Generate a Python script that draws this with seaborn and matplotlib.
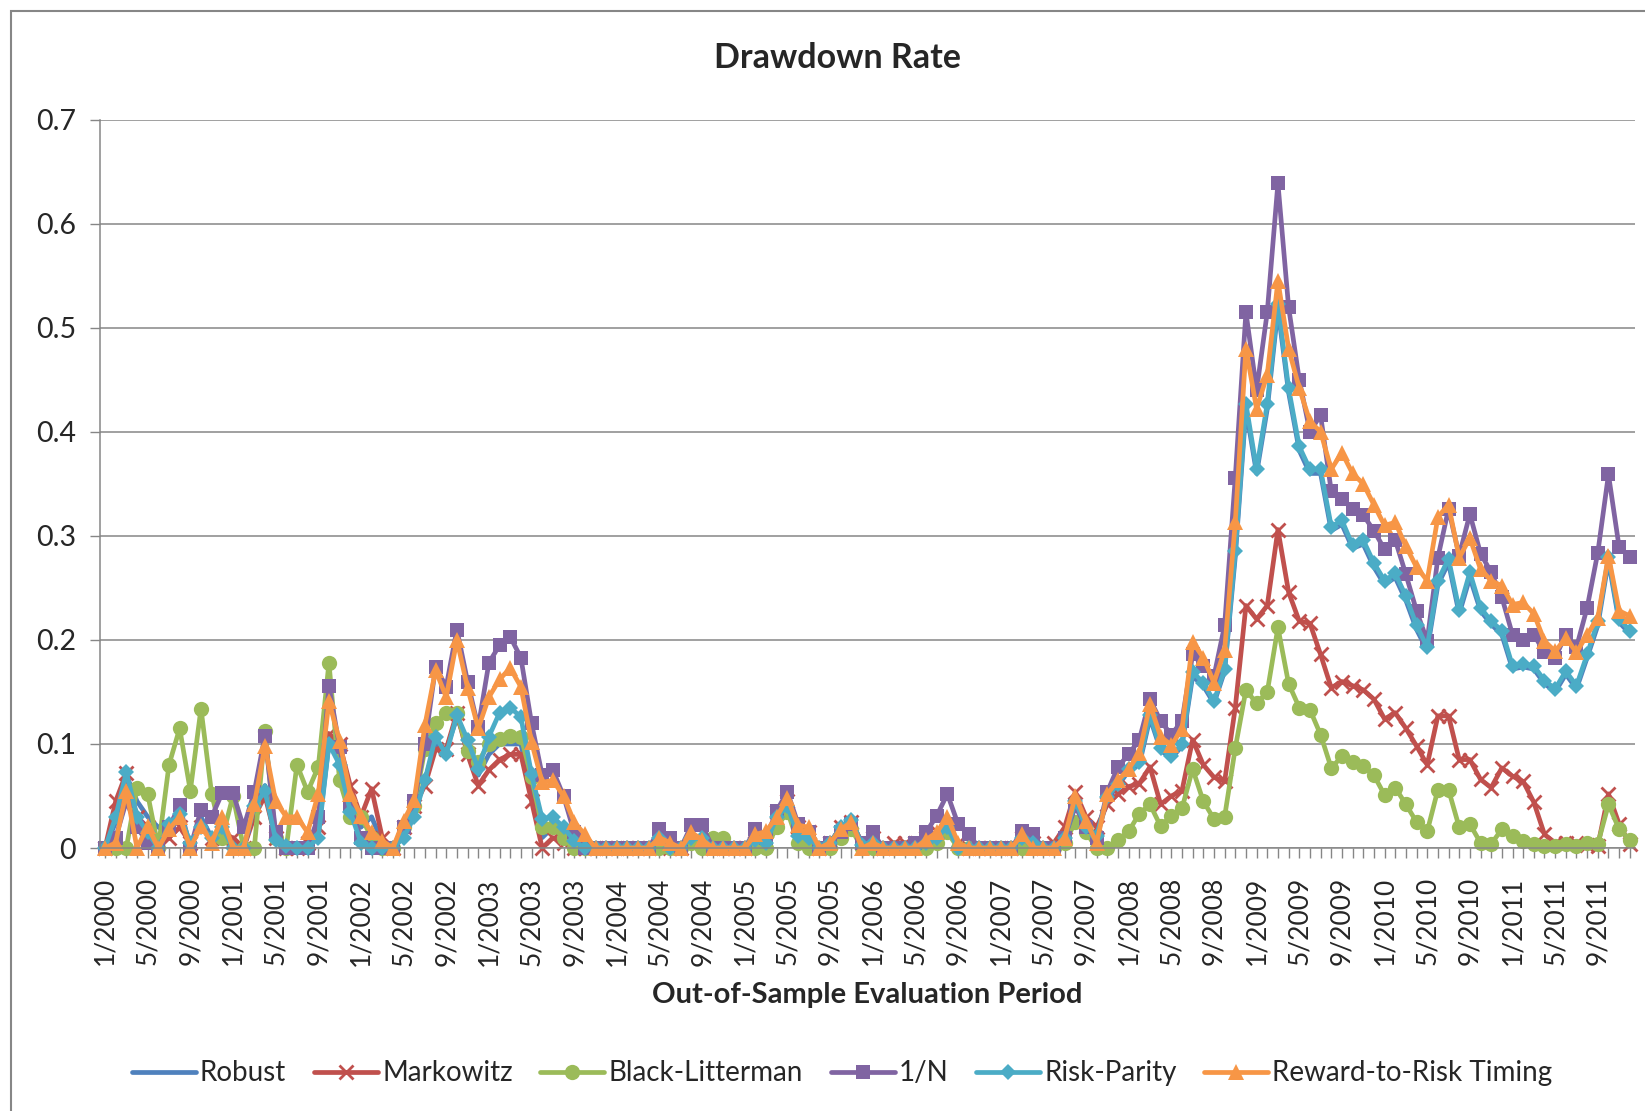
import matplotlib
matplotlib.use('Agg')
import matplotlib.pyplot as plt
import seaborn as sns
import pandas as pd
import numpy as np
from matplotlib.patches import Rectangle

# monthly periods 1/2000 .. 12/2011
years = list(range(2000, 2012))
periods = [f'{m}/{y}' for y in years for m in range(1, 13)]

robust = [
    0, 0.025, 0.07, 0.045, 0.03, 0.02, 0.015, 0.03, 0.0, 0.03, 0.01, 0.015,
    0.005, 0.0, 0.035, 0.06, 0.005, 0.0, 0.0, 0.005, 0.015, 0.1, 0.085, 0.05,
    0.02, 0.03, 0.005, 0.0, 0.015, 0.035, 0.065, 0.1, 0.095, 0.125, 0.1, 0.07,
    0.09, 0.1, 0.1, 0.1, 0.055, 0.01, 0.02, 0.01, 0.0, 0.0, 0.0, 0.0,
    0, 0, 0, 0, 0.01, 0.0, 0.0, 0.01, 0.01, 0.0, 0.0, 0.0,
    0.0, 0.008, 0.005, 0.03, 0.04, 0.012, 0.01, 0.0, 0.005, 0.02, 0.027, 0.003,
    0.005, 0.0, 0.0, 0.0, 0.0, 0.005, 0.01, 0.02, 0.0, 0.0, 0.0, 0.0,
    0.0, 0.0, 0.01, 0.005, 0.0, 0.0, 0.01, 0.042, 0.02, 0.01, 0.047, 0.06,
    0.074, 0.08, 0.125, 0.094, 0.086, 0.098, 0.165, 0.156, 0.139, 0.17, 0.28, 0.422,
    0.36, 0.422, 0.518, 0.438, 0.382, 0.36, 0.36, 0.305, 0.311, 0.288, 0.292, 0.27,
    0.253, 0.26, 0.238, 0.21, 0.19, 0.253, 0.274, 0.225, 0.26, 0.228, 0.215, 0.205,
    0.172, 0.174, 0.172, 0.158, 0.15, 0.167, 0.153, 0.183, 0.214, 0.276, 0.217, 0.206,
]
markowitz = [
    0, 0.045, 0.072, 0.03, 0.02, 0.005, 0.01, 0.02, 0.005, 0.02, 0.01, 0.01,
    0.01, 0.0, 0.03, 0.05, 0.01, 0.0, 0.0, 0.005, 0.02, 0.11, 0.1, 0.06,
    0.03, 0.057, 0.01, 0.0, 0.02, 0.04, 0.06, 0.095, 0.095, 0.13, 0.09, 0.06,
    0.075, 0.085, 0.09, 0.09, 0.045, 0.0, 0.01, 0.005, 0.0, 0.0, 0.0, 0.0,
    0, 0, 0, 0, 0.005, 0.0, 0.0, 0.005, 0.005, 0.0, 0.0, 0.0,
    0.0, 0.005, 0.005, 0.035, 0.045, 0.02, 0.015, 0.0, 0.005, 0.02, 0.025, 0.005,
    0.01, 0.0, 0.005, 0.005, 0.005, 0.01, 0.015, 0.02, 0.005, 0.0, 0.0, 0.0,
    0.0, 0.0, 0.01, 0.005, 0.0, 0.005, 0.02, 0.054, 0.03, 0.02, 0.042, 0.052,
    0.059, 0.062, 0.078, 0.042, 0.05, 0.055, 0.104, 0.08, 0.068, 0.064, 0.135, 0.233,
    0.22, 0.233, 0.306, 0.246, 0.218, 0.216, 0.186, 0.154, 0.16, 0.156, 0.152, 0.143,
    0.124, 0.13, 0.115, 0.098, 0.08, 0.127, 0.127, 0.085, 0.085, 0.066, 0.058, 0.077,
    0.069, 0.064, 0.044, 0.013, 0.005, 0.005, 0.005, 0.003, 0.002, 0.052, 0.023, 0.004,
]
black_litterman = [
    0, 0.0, 0.0, 0.058, 0.052, 0.0, 0.08, 0.115, 0.055, 0.134, 0.052, 0.01,
    0.05, 0.0, 0.0, 0.112, 0.01, 0.0, 0.08, 0.054, 0.078, 0.178, 0.065, 0.03,
    0.03, 0.01, 0.0, 0.0, 0.02, 0.04, 0.095, 0.12, 0.13, 0.13, 0.093, 0.083,
    0.1, 0.105, 0.108, 0.107, 0.068, 0.02, 0.02, 0.01, 0.0, 0.0, 0.0, 0.0,
    0, 0, 0, 0, 0.0, 0.0, 0.0, 0.005, 0.0, 0.01, 0.01, 0.0,
    0.0, 0.0, 0.0, 0.02, 0.035, 0.005, 0.0, 0.0, 0.0, 0.01, 0.018, 0.0,
    0.0, 0.0, 0.0, 0.0, 0.0, 0.0, 0.005, 0.015, 0.0, 0.0, 0.0, 0.0,
    0.0, 0.0, 0.0, 0.0, 0.0, 0.0, 0.005, 0.025, 0.015, 0.0, 0.0, 0.008,
    0.016, 0.033, 0.042, 0.021, 0.031, 0.038, 0.076, 0.045, 0.028, 0.03, 0.096, 0.152,
    0.139, 0.15, 0.212, 0.158, 0.135, 0.133, 0.109, 0.077, 0.088, 0.083, 0.079, 0.07,
    0.051, 0.058, 0.042, 0.025, 0.016, 0.056, 0.056, 0.02, 0.023, 0.005, 0.004, 0.018,
    0.012, 0.007, 0.004, 0.002, 0.002, 0.004, 0.002, 0.005, 0.004, 0.042, 0.018, 0.008,
]
one_over_n = [
    0, 0.01, 0.045, 0.02, 0.005, 0.0, 0.02, 0.041, 0.0, 0.037, 0.03, 0.053,
    0.053, 0.02, 0.054, 0.108, 0.015, 0.0, 0.0, 0.0, 0.03, 0.156, 0.097, 0.04,
    0.01, 0.0, 0.0, 0.0, 0.02, 0.045, 0.1, 0.174, 0.155, 0.21, 0.16, 0.116,
    0.178, 0.195, 0.203, 0.183, 0.12, 0.07, 0.075, 0.05, 0.015, 0.0, 0.0, 0.0,
    0, 0, 0, 0, 0.018, 0.01, 0.0, 0.022, 0.022, 0.0, 0.0, 0.0,
    0.0, 0.018, 0.01, 0.036, 0.054, 0.023, 0.015, 0.0, 0.005, 0.015, 0.023, 0.005,
    0.015, 0.0, 0.0, 0.0, 0.005, 0.015, 0.031, 0.052, 0.023, 0.013, 0.0, 0.0,
    0.0, 0.0, 0.016, 0.013, 0.0, 0.0, 0.01, 0.04, 0.02, 0.01, 0.054, 0.078,
    0.09, 0.104, 0.143, 0.122, 0.109, 0.122, 0.186, 0.175, 0.165, 0.214, 0.356, 0.515,
    0.44, 0.515, 0.639, 0.52, 0.45, 0.40, 0.416, 0.343, 0.335, 0.326, 0.32, 0.305,
    0.287, 0.296, 0.263, 0.228, 0.199, 0.279, 0.326, 0.281, 0.321, 0.283, 0.265, 0.241,
    0.205, 0.2, 0.205, 0.188, 0.183, 0.205, 0.193, 0.231, 0.284, 0.359, 0.289, 0.28,
]
risk_parity = [
    0, 0.03, 0.073, 0.03, 0.015, 0.0, 0.023, 0.033, 0.005, 0.02, 0.01, 0.02,
    0.0, 0.0, 0.04, 0.055, 0.008, 0.002, 0.0, 0.0, 0.01, 0.1, 0.08, 0.035,
    0.005, 0.0, 0.0, 0.0, 0.01, 0.03, 0.065, 0.107, 0.09, 0.128, 0.104, 0.076,
    0.107, 0.13, 0.135, 0.126, 0.071, 0.028, 0.03, 0.02, 0.007, 0.0, 0.0, 0.0,
    0, 0, 0, 0, 0.01, 0.0, 0.0, 0.01, 0.01, 0.0, 0.0, 0.0,
    0.0, 0.008, 0.005, 0.03, 0.04, 0.012, 0.01, 0.0, 0.005, 0.02, 0.027, 0.003,
    0.005, 0.0, 0.0, 0.0, 0.0, 0.005, 0.01, 0.02, 0.0, 0.0, 0.0, 0.0,
    0.0, 0.0, 0.01, 0.005, 0.0, 0.0, 0.01, 0.045, 0.02, 0.012, 0.049, 0.062,
    0.076, 0.083, 0.128, 0.096, 0.088, 0.1, 0.169, 0.159, 0.141, 0.172, 0.285, 0.427,
    0.364, 0.427, 0.523, 0.442, 0.386, 0.364, 0.364, 0.309, 0.315, 0.291, 0.296, 0.274,
    0.257, 0.264, 0.242, 0.214, 0.193, 0.257, 0.278, 0.229, 0.265, 0.231, 0.218, 0.209,
    0.175, 0.177, 0.175, 0.161, 0.153, 0.17, 0.156, 0.186, 0.218, 0.28, 0.22, 0.209,
]
reward_to_risk = [
    0, 0.005, 0.055, 0.0, 0.021, 0.0, 0.018, 0.03, 0.0, 0.021, 0.005, 0.03,
    0.0, 0.0, 0.042, 0.098, 0.045, 0.03, 0.03, 0.015, 0.052, 0.141, 0.103, 0.052,
    0.031, 0.015, 0.007, 0.0, 0.026, 0.046, 0.118, 0.171, 0.145, 0.2, 0.154, 0.115,
    0.145, 0.162, 0.173, 0.155, 0.102, 0.063, 0.065, 0.05, 0.025, 0.013, 0.0, 0.0,
    0, 0, 0, 0, 0.01, 0.005, 0.0, 0.015, 0.008, 0.0, 0.0, 0.0,
    0.0, 0.013, 0.016, 0.03, 0.048, 0.022, 0.02, 0.0, 0.005, 0.018, 0.025, 0.0,
    0.005, 0.0, 0.0, 0.0, 0.0, 0.008, 0.015, 0.03, 0.005, 0.0, 0.0, 0.0,
    0.0, 0.0, 0.013, 0.0, 0.0, 0.0, 0.01, 0.05, 0.026, 0.005, 0.052, 0.065,
    0.076, 0.091, 0.138, 0.107, 0.099, 0.114, 0.198, 0.183, 0.159, 0.19, 0.313, 0.48,
    0.422, 0.455, 0.545, 0.48, 0.442, 0.41, 0.40, 0.364, 0.38, 0.36, 0.35, 0.33,
    0.31, 0.313, 0.29, 0.27, 0.257, 0.318, 0.33, 0.279, 0.298, 0.268, 0.257, 0.252,
    0.234, 0.236, 0.225, 0.199, 0.189, 0.202, 0.188, 0.205, 0.221, 0.281, 0.228, 0.223,
]

series = [
    ('Robust', robust, '#4F81BD', None),
    ('Markowitz', markowitz, '#C0504D', 'x'),
    ('Black-Litterman', black_litterman, '#9BBB59', 'o'),
    ('1/N', one_over_n, '#8064A2', 's'),
    ('Risk-Parity', risk_parity, '#4BACC6', 'D'),
    ('Reward-to-Risk Timing', reward_to_risk, '#F79646', '^'),
]
marker_size = {'x': 10, 'o': 11, 's': 10.5, 'D': 8.5, '^': 11.5}

sns.set_theme(style='white')
plt.rcParams['font.family'] = ['Lato', 'DejaVu Sans']

fig = plt.figure(figsize=(16.45, 11.11), dpi=100)
ax = fig.add_axes([0.0606, 0.2367, 0.9334, 0.6556])

idx = np.arange(len(periods))
for name, vals, color, mk in series:
    kw = dict(color=color, linewidth=3.4, label=name, clip_on=False)
    if mk is not None:
        kw.update(marker=mk, markersize=marker_size[mk], markeredgecolor=color,
                  markerfacecolor=color,
                  markeredgewidth=2.0 if mk == 'x' else 0)
    sns.lineplot(x=idx, y=vals, ax=ax, **kw)

ax.set_xlim(-0.5, 143.5)
ax.set_ylim(0, 0.7)
ax.set_yticks(np.arange(0, 0.71, 0.1))
ax.set_yticklabels(['0', '0.1', '0.2', '0.3', '0.4', '0.5', '0.6', '0.7'], fontsize=20.5)
ax.set_xticks(idx[::4])
ax.set_xticklabels(periods[::4], rotation=90, fontsize=19)
ax.set_xticks(idx, minor=True)
ax.tick_params(axis='x', which='both', direction='out', length=7, width=1,
               color='#868686', bottom=True, pad=14)
ax.tick_params(axis='y', direction='out', length=7, width=1, color='#868686',
               left=True, pad=10)
ax.grid(axis='y', color='#868686', linewidth=1.1)
ax.grid(axis='x', visible=False)
for side in ['top', 'right']:
    ax.spines[side].set_visible(False)
for side in ['left', 'bottom']:
    ax.spines[side].set_color('#868686')
    ax.spines[side].set_linewidth(1.1)

ax.set_xlabel('Out-of-Sample Evaluation Period', fontsize=21, fontweight='bold', labelpad=12)
ax.set_ylabel('')
fig.text(0.509, 0.948, 'Drawdown Rate', ha='center', va='center', fontsize=24.5,
         fontweight='bold')

if ax.legend_ is not None:
    ax.legend_.remove()
handles, labels = ax.get_legend_handles_labels()
fig.legend(handles, labels, loc='center', bbox_to_anchor=(0.512, 0.034), ncol=6,
           frameon=False, fontsize=20, handlelength=2.3, handletextpad=0.15,
           columnspacing=1.0, numpoints=1)

# chart area outline
fig.patches.append(Rectangle((0.0067, -0.05), 1.2, 1.05 - 0.0099, transform=fig.transFigure,
                             fill=False, edgecolor='#868686', linewidth=1.5))

plt.savefig('out.png', dpi=100, facecolor='white')
